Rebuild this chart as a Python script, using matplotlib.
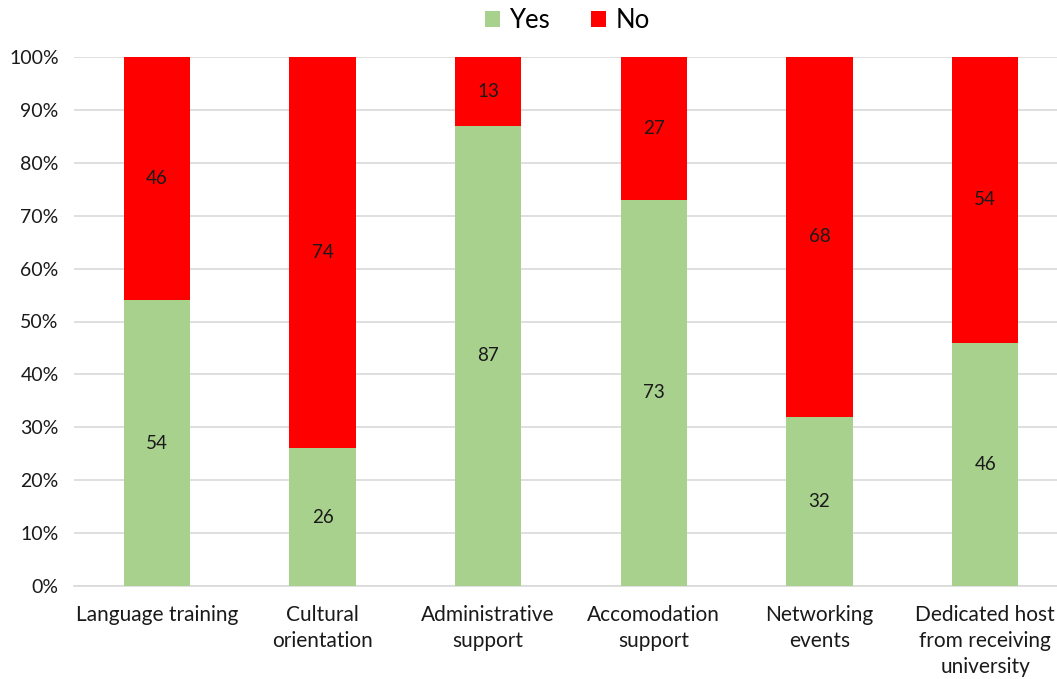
import numpy as np
import matplotlib.pyplot as plt

plt.rcParams['font.family'] = ['Lato', 'DejaVu Sans']

categories = ["Language training", "Cultural\norientation", "Administrative\nsupport",
              "Accomodation\nsupport", "Networking\nevents",
              "Dedicated host\nfrom receiving\nuniversity"]
yes_vals = np.array([54, 26, 87, 73, 32, 46])
no_vals = np.array([46, 74, 13, 27, 68, 54])

green = '#a9d18e'
red = '#ff0000'

W, H = 1057, 679
fig = plt.figure(figsize=(W / 100, H / 100), dpi=100)
# axes runs slightly past the right edge so the last bar keeps its slot
ax = fig.add_axes([74 / W, (H - 586) / H, 994 / W, (586 - 57) / H])

x = np.arange(len(categories))
total = yes_vals + no_vals
yes_pct = yes_vals / total * 100
no_pct = no_vals / total * 100

b1 = ax.bar(x, yes_pct, width=0.4, color=green, label='Yes', zorder=3)
b2 = ax.bar(x, no_pct, width=0.4, bottom=yes_pct, color=red, label='No', zorder=3)

for i in range(len(x)):
    ax.text(x[i], yes_pct[i] / 2, str(yes_vals[i]), ha='center', va='center',
            fontsize=13.5, color='#1a1a1a', zorder=4)
    ax.text(x[i], yes_pct[i] + no_pct[i] / 2, str(no_vals[i]), ha='center', va='center',
            fontsize=13.5, color='#1a1a1a', zorder=4)

ax.set_xlim(-0.5, len(categories) - 0.5)
ax.set_ylim(0, 100)
ax.set_yticks(np.arange(0, 101, 10))
ax.set_yticklabels([f"{v}%" for v in range(0, 101, 10)])
ax.set_xticks(x)
ax.set_xticklabels(categories, fontsize=15, color='#1a1a1a', linespacing=1.35)
ax.tick_params(axis='y', labelsize=14, colors='#1a1a1a', length=0, pad=11)
ax.tick_params(axis='x', length=0, pad=14)
ax.grid(axis='y', color='#d9d9d9', linewidth=1.2, zorder=0)

for s in ['top', 'right', 'left']:
    ax.spines[s].set_visible(False)
ax.spines['bottom'].set_color('#d9d9d9')
ax.spines['bottom'].set_linewidth(1.2)

fig.legend(handles=[b1, b2], loc='upper center', bbox_to_anchor=(567 / W, 1.022), ncol=2,
           frameon=False, fontsize=18.5, handlelength=0.6, handleheight=0.6,
           columnspacing=1.6, handletextpad=0.35)

fig.savefig('out.png', dpi=100)
